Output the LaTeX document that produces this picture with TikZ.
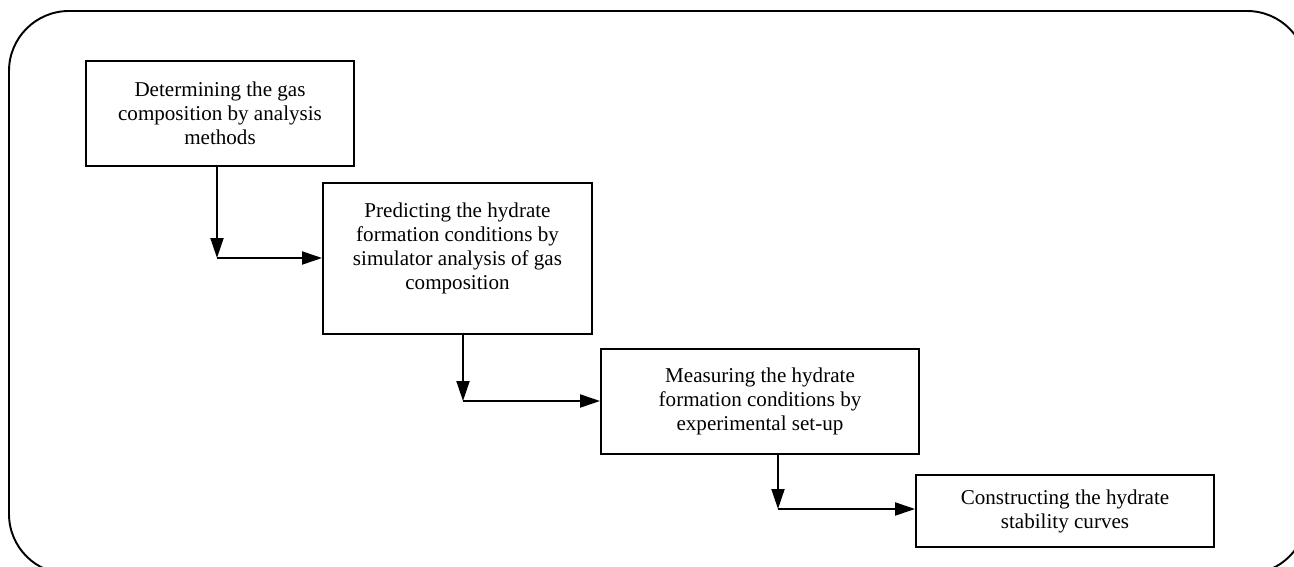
\documentclass[tikz,border=0pt]{standalone}
\usepackage{fontspec}
\setmainfont{Liberation Serif}
\usetikzlibrary{arrows.meta}
\tikzset{
	stage/.style={draw, line width=1.1pt, align=center, inner sep=0pt, font=\fontsize{12}{13.7}\selectfont},
	flow/.style={line width=1.1pt, -{Triangle[length=0.4cm,width=0.26cm]}},
}
\begin{document}
\begin{tikzpicture}[x=0.02cm, y=-0.02cm]
	\useasboundingbox (0,0) rectangle (1294,567);
	\draw[line width=1.1pt, rounded corners=1.2cm] (9,11) rectangle (1307,574);
	\node[stage, minimum width=5.36cm, minimum height=2.1cm] (determine) at (220,113.5) {Determining the gas\\ composition by analysis\\ methods};
	\node[stage, minimum width=5.38cm, minimum height=3.02cm] (predict) at (457.5,258.5) {Predicting the hydrate\\ formation conditions by\\ simulator analysis of gas\\ composition\\ \mbox{}};
	\node[stage, minimum width=6.36cm, minimum height=2.1cm] (measure) at (760,401.5) {Measuring the hydrate\\ formation conditions by\\ experimental set-up};
	\node[stage, minimum width=5.96cm, minimum height=1.44cm] (construct) at (1065,511) {Constructing the hydrate\\ stability curves};
	\coordinate (bend1) at (217,258);
	\coordinate (bend2) at (463,401);
	\coordinate (bend3) at (778,509);
	\draw[flow] (determine.south -| bend1) -- (bend1);
	\draw[flow] (bend1) -- (bend1 -| predict.west);
	\draw[flow] (predict.south -| bend2) -- (bend2);
	\draw[flow] (bend2) -- (bend2 -| measure.west);
	\draw[flow] (measure.south -| bend3) -- (bend3);
	\draw[flow] (bend3) -- (bend3 -| construct.west);
\end{tikzpicture}
\end{document}
